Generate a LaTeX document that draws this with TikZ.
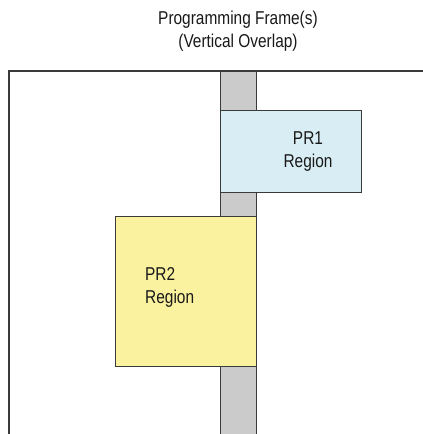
\documentclass[tikz,border=0pt]{standalone}
\usepackage{fontspec}
\setmainfont{Liberation Sans}[FakeStretch=0.83]
\definecolor{bluefill}{HTML}{D9EEF4}
\definecolor{yellowfill}{HTML}{FAF29E}
\definecolor{barfill}{HTML}{CBCBCB}
\definecolor{edge}{HTML}{3A3A3A}
\tikzset{
  regionbox/.style={draw=edge, line width=1.4pt, rectangle, inner sep=0pt, anchor=north west},
  lbl/.style={font=\fontsize{18.6}{23}\selectfont, text=black!90, inner sep=0pt, align=center},
}
\begin{document}
\begin{tikzpicture}[x=1pt,y=-1pt]
\useasboundingbox (0,0) rectangle (423,434);
% device frame (clipped at right and bottom)
\coordinate (frBL) at (9,434);
\coordinate (frTL) at (9,71);
\coordinate (frTR) at (423,71);
\draw[edge, line width=1.4pt] (frBL) -- (frTL) -- (frTR);
% programming frame bar
\node[regionbox, fill=barfill, minimum width=36pt, minimum height=364pt] (bar) at (220,71) {};
% PR1
\node[regionbox, fill=bluefill, minimum width=141pt, minimum height=82pt] (pr1) at (220,110) {};
% PR2
\node[regionbox, fill=yellowfill, minimum width=141pt, minimum height=150pt] (pr2) at (115,216) {};
\node[lbl] (pr1t) at (308,152) {PR1\\Region};
\node[lbl, align=left, anchor=west] (pr2t) at (145,287) {PR2\\Region};
\node[lbl] (title) at (238,31) {Programming Frame(s)\\(Vertical Overlap)};
\end{tikzpicture}
\end{document}
